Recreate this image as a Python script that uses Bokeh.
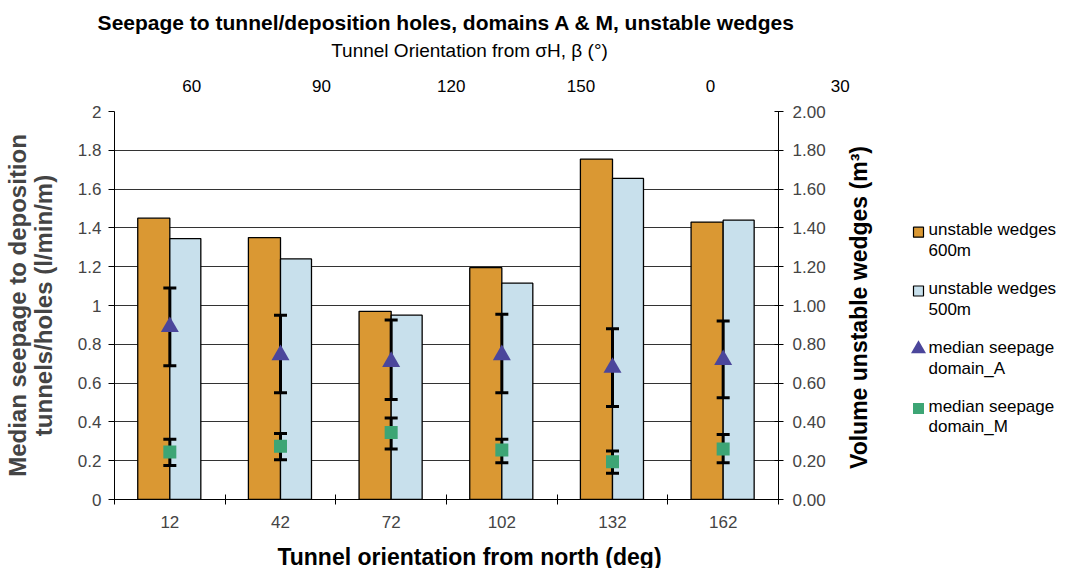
import math
from bokeh.plotting import figure
from bokeh.layouts import column, row
from bokeh.models import Range1d, LinearAxis, FixedTicker
from bokeh.core.properties import value
from bokeh.embed import file_html
from bokeh.resources import INLINE

# ---- data ----
orientation_north = ["12", "42", "72", "102", "132", "162"]
beta_labels = ["60", "90", "120", "150", "0", "30"]
wedges_600m = [1.45, 1.35, 0.97, 1.195, 1.755, 1.43]
wedges_500m = [1.345, 1.24, 0.95, 1.115, 1.655, 1.44]
seep_A = [0.89, 0.745, 0.71, 0.745, 0.68, 0.72]
seep_A_hi = [1.09, 0.95, 0.925, 0.955, 0.88, 0.92]
seep_A_lo = [0.69, 0.55, 0.515, 0.55, 0.48, 0.525]
seep_M = [0.245, 0.275, 0.345, 0.255, 0.195, 0.26]
seep_M_hi = [0.31, 0.34, 0.42, 0.31, 0.25, 0.335]
seep_M_lo = [0.175, 0.205, 0.26, 0.19, 0.135, 0.19]
left_ticks = [0, 0.2, 0.4, 0.6, 0.8, 1.0, 1.2, 1.4, 1.6, 1.8, 2.0]
left_tick_labels = ["0", "0.2", "0.4", "0.6", "0.8", "1", "1.2", "1.4", "1.6", "1.8", "2"]
right_tick_labels = ["0.00", "0.20", "0.40", "0.60", "0.80", "1.00", "1.20", "1.40", "1.60", "1.80", "2.00"]
legend_labels = ["unstable wedges\n600m", "unstable wedges\n500m",
                 "median seepage\ndomain_A", "median seepage\ndomain_M"]

FONT = "Liberation Sans"
C_600 = "#DA9833"
C_500 = "#C8E0EC"
C_A = "#4B469B"
C_M = "#3DA575"

n = len(orientation_north)
centers = [i + 0.5 for i in range(n)]

# ---- layout geometry (pixels) ----
W = 1059
H_HEAD, H_FOOT = 100, 31
ML, FW, MR = 114, 664, 60
MT, FH, MB = 11, 388, 38
W_MAIN = ML + FW + MR
H_MAIN = MT + FH + MB
W_SIDE = W - W_MAIN
U = FW / n  # pixels per category

def blank(width, height, xr, yr, top=0, bottom=0):
    f = figure(width=width, height=height, x_range=xr, y_range=yr,
               output_backend="svg", toolbar_location=None,
               x_axis_location=None, y_axis_location=None,
               min_border=0, min_border_left=0, min_border_right=0,
               min_border_top=top, min_border_bottom=bottom)
    f.outline_line_color = None
    f.xgrid.visible = False
    f.ygrid.visible = False
    f.background_fill_color = "white"
    f.border_fill_color = "white"
    return f

# ---- main chart ----
p = figure(width=W_MAIN, height=H_MAIN, x_range=Range1d(0, n), y_range=Range1d(0, 2),
           output_backend="svg", toolbar_location=None,
           min_border_left=ML, min_border_right=MR, min_border_top=MT, min_border_bottom=MB)
p.outline_line_color = None
p.background_fill_color = "white"
p.border_fill_color = "white"
p.xgrid.visible = False
p.ygrid.ticker = FixedTicker(ticks=left_ticks)
p.ygrid.grid_line_color = "#333333"
p.ygrid.grid_line_width = 1

xa = p.xaxis[0]
xa.ticker = FixedTicker(ticks=centers, minor_ticks=list(range(n + 1)))
xa.major_label_overrides = {c: lab for c, lab in zip(centers, orientation_north)}
xa.major_tick_line_color = None
xa.minor_tick_in = 5
xa.minor_tick_out = 5
xa.minor_tick_line_color = "black"
xa.axis_line_color = "black"
xa.major_label_standoff = 10
xa.major_label_text_font = FONT
xa.major_label_text_font_size = "17px"

ya = p.yaxis[0]
ya.ticker = FixedTicker(ticks=left_ticks)
ya.major_label_overrides = {t: lab for t, lab in zip(left_ticks, left_tick_labels)}
ya.major_tick_in = 0
ya.major_tick_out = 6
ya.minor_tick_line_color = None
ya.axis_line_color = "black"
ya.major_label_standoff = 7
ya.major_label_text_font = FONT
ya.major_label_text_font_size = "17px"
ya.axis_label = "Median seepage to deposition\ntunnels/holes (l/min/m)"
ya.axis_label_text_font = FONT
ya.axis_label_text_font_style = "bold"
ya.axis_label_text_font_size = "24px"
ya.axis_label_text_line_height = 0.96
ya.axis_label_standoff = 18

p.extra_y_ranges = {"vol": Range1d(0, 2)}
ra = LinearAxis(y_range_name="vol", ticker=FixedTicker(ticks=left_ticks))
ra.major_label_overrides = {t: lab for t, lab in zip(left_ticks, right_tick_labels)}
ra.major_tick_in = 4
ra.major_tick_out = 5
ra.minor_tick_line_color = None
ra.major_label_standoff = 9
ra.major_label_text_font = FONT
ra.major_label_text_font_size = "17px"
p.add_layout(ra, "right")

bw6, bw5 = 0.29, 0.28
x600 = [c - bw6 / 2 for c in centers]
x500 = [c + bw5 / 2 for c in centers]
p.vbar(x=x600, top=wedges_600m, width=bw6, bottom=0,
       fill_color=C_600, line_color="black", line_width=1.3, y_range_name="vol")
p.vbar(x=x500, top=wedges_500m, width=bw5, bottom=0,
       fill_color=C_500, line_color="black", line_width=1.3, y_range_name="vol")

for lo, hi in ((seep_A_lo, seep_A_hi), (seep_M_lo, seep_M_hi)):
    p.segment(x0=centers, y0=lo, x1=centers, y1=hi, line_color="black", line_width=3)
    p.scatter(x=centers, y=hi, marker="dash", size=13, line_color="black", line_width=3)
    p.scatter(x=centers, y=lo, marker="dash", size=13, line_color="black", line_width=3)

p.scatter(x=centers, y=seep_A, marker="triangle", size=18, fill_color=C_A, line_color=None)
p.scatter(x=centers, y=seep_M, marker="square", size=13, fill_color=C_M, line_color=None)

# ---- header: title, subtitle, secondary (beta) category labels ----
head = blank(W, H_HEAD, Range1d(-ML / U, (W - ML) / U), Range1d(0, H_HEAD))
beta_step = 129.7 / U
beta_first = 77.3 / U
beta_x = [beta_first + k * beta_step for k in range(len(beta_labels))]
head.text(x=beta_x, y=[15] * len(beta_labels), text=beta_labels,
          text_font=value(FONT), text_font_size=value("17px"),
          text_align="center", text_baseline="middle")
head.text(x=[n / 2], y=[78], text=["Seepage to tunnel/deposition holes, domains A & M, unstable wedges"],
          text_font=value(FONT), text_font_size=value("21px"), text_font_style="bold",
          text_align="center", text_baseline="middle")
head.text(x=[n / 2 + 23 / U], y=[50], text=["Tunnel Orientation from \u03c3H, \u03b2 (\u00b0)"],
          text_font=value(FONT), text_font_size=value("19px"),
          text_align="center", text_baseline="middle")

# ---- side: right axis title and legend (pixel coordinates, frame aligned with main) ----
side = blank(W_SIDE, H_MAIN, Range1d(0, W_SIDE), Range1d(0, FH), top=MT, bottom=MB)
side.text(x=[20], y=[FH / 2 - 2], text=["Volume unstable wedges (m\u00b3)"],
          angle=math.pi / 2, text_font=value(FONT), text_font_size=value("23px"),
          text_font_style="bold", text_align="center", text_baseline="middle")

LG_X, LG_TOP, LG_PITCH = 80, 267.3, 58.8
lg_y = [LG_TOP - k * LG_PITCH for k in range(len(legend_labels))]
side.rect(x=[LG_X], y=[lg_y[0]], width=10, height=10, fill_color=C_600,
          line_color="black", line_width=1.2)
side.rect(x=[LG_X], y=[lg_y[1]], width=10, height=10, fill_color=C_500,
          line_color="black", line_width=1.2)
side.scatter(x=[LG_X], y=[lg_y[2] + 1], marker="triangle", size=15, fill_color=C_A, line_color=None)
side.scatter(x=[LG_X], y=[lg_y[3]], marker="square", size=11, fill_color=C_M, line_color=None)
side.text(x=[LG_X + 10] * len(legend_labels), y=[v + 12 for v in lg_y], text=legend_labels,
          text_font=value(FONT), text_font_size=value("17px"), text_line_height=1.1,
          text_align="left", text_baseline="top")

# ---- footer: x axis title ----
foot = blank(W, H_FOOT, Range1d(-ML / U, (W - ML) / U), Range1d(0, H_FOOT))
foot.text(x=[n / 2 + 23 / U], y=[12], text=["Tunnel orientation from north (deg)"],
          text_font=value(FONT), text_font_size=value("23px"), text_font_style="bold",
          text_align="center", text_baseline="middle")

layout = column(head, row(p, side), foot)
open("out.html", "w").write(file_html(layout, INLINE))
